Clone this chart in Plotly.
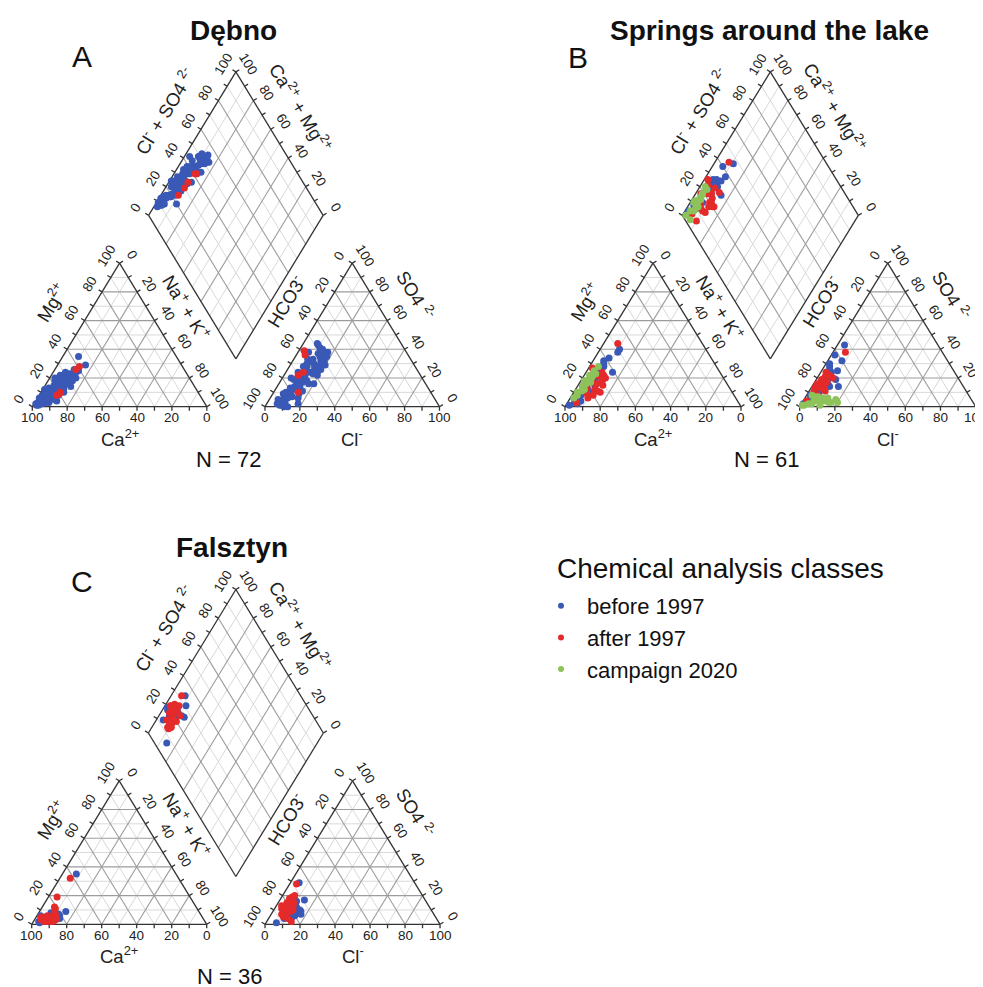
import numpy as np
import plotly.graph_objects as go

# page size of the screenshot, and the 8 px default body margin of the html page
PAGE_W, PAGE_H = 983, 987
OFF = 8
W, H = PAGE_W - OFF, PAGE_H - OFF
H3 = np.sqrt(3) / 2
GAP = 1 / 3
FONT = "Liberation Sans, Arial, sans-serif"

COLORS = {"before 1997": "#3a59b7", "after 1997": "#e42a2a", "campaign 2020": "#8dc35a"}
CLASS_ORDER = ["before 1997", "after 1997", "campaign 2020"]

# ---------------- data (percent of meq) ----------------
# Dębno (N = 72)
debno_mg = [3, 5, 2, 4, 6, 8, 10, 7, 12, 9, 14, 11, 15, 13, 16, 18, 12, 17, 20, 19, 22, 6, 4, 8, 3, 5, 7, 9, 11, 13,
            10, 14, 16, 18, 21, 23, 24, 25, 20, 26, 35, 29, 2, 1, 6, 3, 8, 12, 15, 17, 19, 22, 24, 11, 13, 9, 7, 5, 18, 16,
            14, 10, 4, 2, 1, 20, 12,
            28, 9, 8, 26, 10]
debno_nak = [2, 3, 5, 4, 2, 5, 3, 7, 4, 8, 6, 10, 5, 9, 7, 4, 12, 9, 6, 10, 8, 9, 7, 11, 6, 10, 4, 6, 2, 3,
             7, 11, 13, 11, 12, 10, 13, 14, 15, 11, 9, 16, 1, 3, 1, 8, 2, 8, 10, 5, 8, 5, 7, 5, 7, 3, 9, 6, 14, 12,
             15, 13, 12, 4, 2, 3, 1,
             13, 11, 10, 12, 11]
debno_so4 = [2, 1, 0, 5, 8, 10, 12, 14, 15, 17, 18, 20, 22, 24, 26, 28, 30, 31, 33, 35, 37, 12, 9, 16, 7, 11, 6, 13, 19, 21,
             23, 25, 27, 29, 32, 36, 38, 40, 41, 43, 44, 35, 3, 4, 5, 6, 9, 18, 22, 24, 28, 30, 33, 15, 17, 10, 14, 8, 32, 29,
             26, 16, 2, 0, 1, 38, 20,
             39, 22, 10, 36, 24]
debno_cl = [6, 9, 13, 8, 7, 9, 11, 10, 12, 13, 9, 11, 12, 14, 10, 8, 13, 12, 11, 14, 12, 14, 15, 17, 12, 16, 10, 8, 7, 9,
            16, 18, 15, 17, 16, 15, 17, 13, 11, 9, 8, 18, 10, 7, 5, 16, 6, 15, 19, 7, 10, 9, 8, 11, 12, 7, 13, 11, 18, 20,
            19, 20, 18, 11, 8, 6, 5,
            3, 8, 14, 5, 10]
debno_class = ["before 1997"] * 67 + ["after 1997"] * 5

# Springs around the lake (N = 61)
springs_mg = [40, 34, 28, 24, 30, 20, 18, 15, 12, 22, 3, 2, 5, 1, 4, 8, 10, 26, 32, 6, 14, 38,
              44, 27, 18, 15, 12, 20, 10, 22, 16, 8, 6, 25, 13, 9, 21, 17, 3, 11, 19, 24, 14,
              25, 22, 20, 18, 16, 14, 12, 10, 17, 21, 13, 15, 8, 19, 23, 11, 6, 28]
springs_nak = [11, 8, 8, 15, 7, 6, 8, 5, 7, 10, 4, 6, 3, 2, 7, 5, 9, 5, 6, 2, 10, 11,
               8, 2, 12, 14, 11, 13, 15, 11, 10, 12, 10, 4, 6, 8, 9, 7, 5, 13, 12, 9, 3,
               4, 3, 5, 2, 4, 3, 5, 2, 6, 5, 4, 3, 3, 4, 6, 4, 2, 5]
springs_so4 = [43, 28, 24, 14, 30, 22, 20, 18, 16, 25, 4, 6, 8, 2, 10, 12, 14, 26, 32, 3, 19, 36,
               38, 24, 15, 12, 18, 20, 14, 16, 10, 8, 4, 21, 13, 9, 17, 19, 3, 11, 13, 22, 16,
               6, 5, 4, 7, 3, 5, 2, 8, 1, 3, 6, 4, 2, 7, 1, 3, 1, 4]
springs_cl = [4, 3, 6, 15, 2, 5, 7, 4, 8, 9, 3, 5, 2, 1, 6, 3, 10, 4, 8, 2, 11, 2,
              7, 3, 6, 8, 5, 9, 7, 4, 3, 6, 2, 4, 2, 4, 7, 3, 3, 9, 5, 6, 2,
              10, 8, 12, 5, 15, 18, 6, 3, 2, 20, 13, 9, 4, 7, 11, 16, 1, 6]
springs_class = ["before 1997"] * 22 + ["after 1997"] * 21 + ["campaign 2020"] * 18

# Falsztyn (N = 36)
falsztyn_mg = [35, 4, 6, 2, 5, 3, 7, 1, 8, 4, 9, 2, 6, 3,
               32, 19, 11, 12, 3, 2, 3, 4, 2, 5, 3, 6, 4, 2, 5, 7, 3, 4, 6, 8, 2, 5]
falsztyn_nak = [8, 14, 13, 3, 5, 8, 12, 4, 7, 10, 15, 6, 2, 11,
                6, 5, 8, 7, 8, 10, 12, 9, 6, 11, 7, 9, 5, 11, 8, 10, 4, 12, 6, 9, 8, 3]
falsztyn_so4 = [29, 1, 10, 8, 6, 9, 17, 4, 12, 7, 16, 5, 11, 8,
                28, 19, 15, 17, 12, 10, 14, 8, 6, 11, 13, 16, 9, 4, 2, 7, 18, 15, 10, 5, 20, 12]
falsztyn_cl = [5, 6, 15, 11, 14, 16, 14, 9, 12, 17, 10, 13, 9, 15,
               4, 6, 5, 7, 5, 7, 6, 8, 9, 4, 3, 8, 10, 11, 14, 6, 5, 9, 11, 8, 7, 10]
falsztyn_class = ["before 1997"] * 14 + ["after 1997"] * 22

# panel placement on the page (pixels of the 983x987 page)
PANELS = [
    dict(title="Dębno", letter="A", n_label="N = 72", mg=debno_mg, nak=debno_nak, so4=debno_so4, cl=debno_cl,
         cls=debno_class, ox=32.3, oy=406.7, sx=174.5, sy=165.7, xr=(-0.18, 2.62), yr=(-0.38, 2.25)),
    dict(title="Springs around the lake", letter="B", n_label="N = 61", mg=springs_mg, nak=springs_nak,
         so4=springs_so4, cl=springs_cl, cls=springs_class, ox=565.0, oy=406.7, sx=176.0, sy=165.7,
         xr=(-0.18, 2.36), yr=(-0.38, 2.25)),
    dict(title="Falsztyn", letter="C", n_label="N = 36", mg=falsztyn_mg, nak=falsztyn_nak, so4=falsztyn_so4,
         cl=falsztyn_cl, cls=falsztyn_class, ox=31.7, oy=924.3, sx=175.0, sy=165.7, xr=(-0.18, 2.62),
         yr=(-0.35, 2.25)),
]


def fx(px):
    return (px - OFF) / W


def fy(py):
    return 1 - (py - OFF) / H


# ---------------- Piper geometry ----------------
BX, BY = 1 + GAP / 2, GAP * H3  # diamond bottom vertex
AX0 = 1 + GAP  # anion triangle left corner


def cation_xy(mg, nak):
    mg, nak = np.asarray(mg) / 100, np.asarray(nak) / 100
    return nak + 0.5 * mg, H3 * mg


def anion_xy(so4, cl):
    so4, cl = np.asarray(so4) / 100, np.asarray(cl) / 100
    return AX0 + cl + 0.5 * so4, H3 * so4


def diamond_xy(nak, so4, cl):
    cm = 1 - np.asarray(nak) / 100
    a = (np.asarray(so4) + np.asarray(cl)) / 100
    return BX - 0.5 * cm + 0.5 * a, BY + H3 * cm + H3 * a


def seg_trace(segs, color, width, xa, ya):
    xs, ys = [], []
    for (x0, y0), (x1, y1) in segs:
        xs += [x0, x1, None]
        ys += [y0, y1, None]
    return go.Scatter(x=xs, y=ys, mode="lines", line=dict(color=color, width=width), hoverinfo="skip",
                      showlegend=False, xaxis=xa, yaxis=ya)


def tri_grid(x0, steps):
    segs = []
    for t in steps:
        segs.append(((x0 + 0.5 * t, H3 * t), (x0 + 1 - 0.5 * t, H3 * t)))
        segs.append(((x0 + t, 0), (x0 + t + 0.5 * (1 - t), H3 * (1 - t))))
        segs.append(((x0 + 1 - t, 0), (x0 + 0.5 * (1 - t), H3 * (1 - t))))
    return segs


def diamond_grid(steps):
    segs = []
    for t in steps:
        p = (BX - 0.5 * t, BY + H3 * t)
        segs.append((p, (p[0] + 0.5, p[1] + H3)))
        q = (BX + 0.5 * t, BY + H3 * t)
        segs.append((q, (q[0] - 0.5, q[1] + H3)))
    return segs


minor = [i / 10 for i in range(1, 10, 2)]
major = [i / 10 for i in range(2, 10, 2)]

fig = go.Figure()
annotations = []
layout_axes = {}

for i, P in enumerate(PANELS):
    sfx = "" if i == 0 else str(i + 1)
    xa, ya = "x" + sfx, "y" + sfx
    sx, sy, ox, oy = P["sx"], P["sy"], P["ox"], P["oy"]
    dom_x = [fx(ox + P["xr"][0] * sx), fx(ox + P["xr"][1] * sx)]
    dom_y = [fy(oy - P["yr"][0] * sy), fy(oy - P["yr"][1] * sy)]
    dom_x = [max(0, dom_x[0]), min(1, dom_x[1])]
    dom_y = [max(0, dom_y[0]), min(1, dom_y[1])]
    xr = [(dom_x[0] * W + OFF - ox) / sx, (dom_x[1] * W + OFF - ox) / sx]
    yr = [(oy - ((1 - dom_y[0]) * H + OFF)) / sy, (oy - ((1 - dom_y[1]) * H + OFF)) / sy]
    layout_axes["xaxis" + sfx] = dict(domain=dom_x, range=xr, visible=False, fixedrange=True)
    layout_axes["yaxis" + sfx] = dict(domain=dom_y, range=yr, visible=False, fixedrange=True)

    ang = np.degrees(np.arctan2(H3 * sy, 0.5 * sx))
    el = np.hypot(0.5 * sx, H3 * sy)
    nL = (-(H3 * sy) / el, (0.5 * sx) / el)  # outward normal of left-leaning edges (px, y up)
    nR = ((H3 * sy) / el, (0.5 * sx) / el)

    gmin = tri_grid(0, minor) + tri_grid(AX0, minor) + diamond_grid(minor)
    gmaj = tri_grid(0, major) + tri_grid(AX0, major) + diamond_grid(major)
    fig.add_trace(seg_trace(gmin, "#d9d9d9", 1, xa, ya))
    fig.add_trace(seg_trace(gmaj, "#9c9c9c", 1.1, xa, ya))

    L = (BX - 0.5, BY + H3)
    R = (BX + 0.5, BY + H3)
    T = (BX, BY + 2 * H3)
    outline = []
    for x0 in (0, AX0):
        outline += [((x0, 0), (x0 + 1, 0)), ((x0, 0), (x0 + 0.5, H3)), ((x0 + 0.5, H3), (x0 + 1, 0))]
    outline += [((BX, BY), L), (L, T), (T, R), (R, (BX, BY))]

    tl = 4.0
    ticks = []
    for v in range(0, 101, 10):
        f = v / 100
        for x0 in (0, AX0):
            p = (x0 + f, 0)
            ticks.append((p, (p[0], p[1] - tl / sy)))
            p = (x0 + 0.5 * f, H3 * f)
            ticks.append((p, (p[0] + nL[0] * tl / sx, p[1] + nL[1] * tl / sy)))
            p = (x0 + 0.5 + 0.5 * f, H3 * (1 - f))
            ticks.append((p, (p[0] + nR[0] * tl / sx, p[1] + nR[1] * tl / sy)))
        p = (L[0] + 0.5 * f, L[1] + H3 * f)
        ticks.append((p, (p[0] + nL[0] * tl / sx, p[1] + nL[1] * tl / sy)))
        p = (R[0] - 0.5 * f, R[1] + H3 * f)
        ticks.append((p, (p[0] + nR[0] * tl / sx, p[1] + nR[1] * tl / sy)))
    fig.add_trace(seg_trace(outline + ticks, "#333333", 1.3, xa, ya))

    cls = np.array(P["cls"])
    cx, cy = cation_xy(P["mg"], P["nak"])
    axx, axy = anion_xy(P["so4"], P["cl"])
    dx, dy = diamond_xy(P["nak"], P["so4"], P["cl"])
    for c in CLASS_ORDER:
        m = cls == c
        if not m.any():
            continue
        fig.add_trace(go.Scatter(
            x=np.concatenate([cx[m], axx[m], dx[m]]), y=np.concatenate([cy[m], axy[m], dy[m]]),
            mode="markers", marker=dict(size=7, color=COLORS[c], line=dict(width=0)),
            name=c, showlegend=False, xaxis=xa, yaxis=ya, hoverinfo="skip"))

    def lab(x, y, text, xs, ys, angle, size=13.5):
        annotations.append(dict(x=x, y=y, xref=xa, yref=ya, text=text, showarrow=False, xanchor="center",
                                yanchor="middle", xshift=xs, yshift=ys, textangle=angle,
                                font=dict(family=FONT, size=size, color="#222")))

    off = 15
    for v in range(0, 101, 20):
        f = v / 100
        lab(1 - f, 0, str(v), 0, -11, 0)
        lab(0.5 * f, H3 * f, str(v), nL[0] * off, nL[1] * off, -ang)
        lab(0.5 + 0.5 * f, H3 * (1 - f), str(v), nR[0] * off, nR[1] * off, ang)
        lab(AX0 + f, 0, str(v), 0, -11, 0)
        lab(AX0 + 0.5 * (1 - f), H3 * (1 - f), str(v), nL[0] * off, nL[1] * off, -ang)
        lab(AX0 + 1 - 0.5 * f, H3 * f, str(v), nR[0] * off, nR[1] * off, ang)
        lab(L[0] + 0.5 * f, L[1] + H3 * f, str(v), nL[0] * off, nL[1] * off, -ang)
        lab(R[0] - 0.5 * f, R[1] + H3 * f, str(v), nR[0] * off, nR[1] * off, ang)

    ts = 18.5
    f = 0.59
    lab(0.5 * f, H3 * f, "Mg<sup>2+</sup>", nL[0] * 38, nL[1] * 38, -ang, ts)
    f = 0.43
    lab(0.5 + 0.5 * f, H3 * (1 - f), "Na<sup>+</sup> + K<sup>+</sup>", nR[0] * 35, nR[1] * 35, ang, ts)
    lab(0.5, 0, "Ca<sup>2+</sup>", 0, -31, 0, ts)
    f = 0.60
    lab(AX0 + 0.5 * f, H3 * f, "HCO3<sup>-</sup>", nL[0] * 37, nL[1] * 37, -ang, ts)
    f = 0.36
    lab(AX0 + 0.5 + 0.5 * f, H3 * (1 - f), "SO4 <sup>2-</sup>", nR[0] * 38, nR[1] * 38, ang, ts)
    lab(AX0 + 0.5, 0, "Cl<sup>-</sup>", 0, -31, 0, ts)
    f = 0.58
    lab(L[0] + 0.5 * f, L[1] + H3 * f, "Cl<sup>-</sup> + SO4 <sup>2-</sup>", nL[0] * 41, nL[1] * 41, -ang, ts)
    f = 0.38
    lab(T[0] + 0.5 * f, T[1] - H3 * f, "Ca<sup>2+</sup> + Mg<sup>2+</sup>", nR[0] * 37, nR[1] * 37, ang, ts)


def paper_text(px, py, text, size, bold=False, anchor="center"):
    annotations.append(dict(x=fx(px), y=fy(py), xref="paper", yref="paper", showarrow=False,
                            text=f"<b>{text}</b>" if bold else text, xanchor=anchor, yanchor="middle",
                            font=dict(family=FONT, size=size, color="#111")))


paper_text(233, 30, PANELS[0]["title"], 28, True)
paper_text(769, 30, PANELS[1]["title"], 28, True)
paper_text(232, 547, PANELS[2]["title"], 28, True)
paper_text(82, 56, PANELS[0]["letter"], 30)
paper_text(578, 57, PANELS[1]["letter"], 30)
paper_text(82, 581, PANELS[2]["letter"], 30)
paper_text(228, 460, PANELS[0]["n_label"], 22)
paper_text(766, 460, PANELS[1]["n_label"], 22)
paper_text(229, 976, PANELS[2]["n_label"], 22)
paper_text(555, 568, "Chemical analysis classes", 28, anchor="left")

for c in CLASS_ORDER:
    fig.add_trace(go.Scatter(x=[None], y=[None], mode="markers", name=c,
                             marker=dict(size=6, color=COLORS[c]), showlegend=True))

fig.update_layout(
    width=W, height=H, margin=dict(l=0, r=0, t=0, b=0),
    paper_bgcolor="white", plot_bgcolor="rgba(0,0,0,0)",
    annotations=annotations,
    legend=dict(x=fx(535), y=fy(585), xanchor="left", yanchor="top", itemwidth=42,
                font=dict(family=FONT, size=22, color="#111"), bgcolor="rgba(0,0,0,0)"),
    **layout_axes,
)
fig.write_html("out.html")
